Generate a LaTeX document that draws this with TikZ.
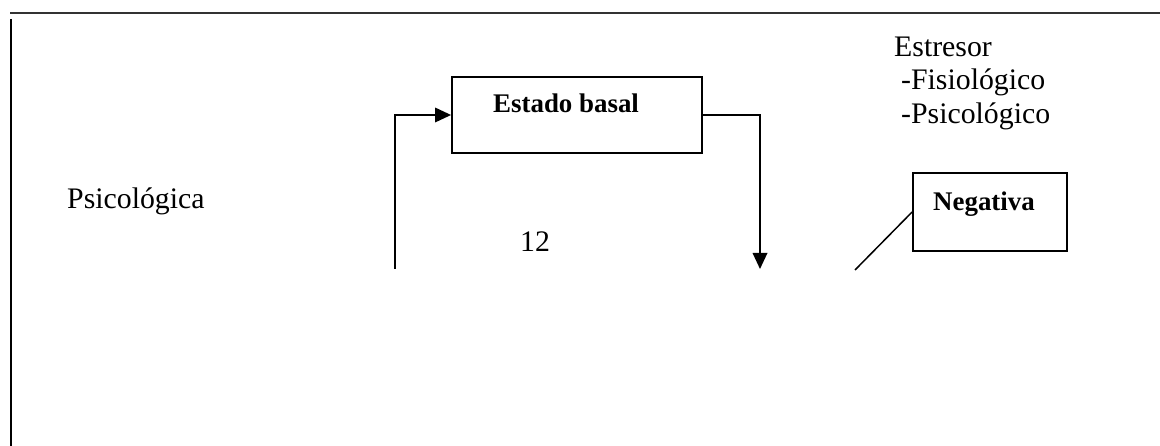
\documentclass[tikz,border=0pt]{standalone}
\usepackage{fontspec}
\setmainfont{Liberation Serif}
\usetikzlibrary{arrows.meta}
\begin{document}
\begin{tikzpicture}[x=1pt,y=-1pt,
  txt/.style={anchor=base west,inner sep=0pt,font=\fontsize{29.8}{33.5}\selectfont},
  boldtxt/.style={anchor=base west,inner sep=0pt,font=\fontsize{26.9}{30}\selectfont\bfseries},
  boxnode/.style={draw,line width=1.8,rectangle,inner sep=0pt},
  flow/.style={line width=1.8,-{Triangle[length=16,width=14.5]}},
  link/.style={line width=1.5}]
\useasboundingbox (0,0) rectangle (1160,446);
% page frame
\draw[line width=2.8,black!80] (10,13) -- (1160,13);
\draw[line width=2.8] (11,19) -- (11,446);

% boxes
\node[boxnode,minimum width=250,minimum height=76] (basal) at (577,115) {};
\node[boldtxt] (basaltxt) at (493,113) {Estado basal};
\node[boxnode,minimum width=154,minimum height=78] (neg) at (990,212) {};
\node[boldtxt] (negtxt) at (933,211) {Negativa};

% free text
\node[txt] (psic) at (67,209) {Psicológica};
\node[txt] (doce) at (520,252) {12};
\node[txt] (estr) at (894,57) {Estresor};
\node[txt] (fis) at (901,90) {-Fisiológico};
\node[txt] (psi2) at (901,123.5) {-Psicológico};

% connectors
\coordinate (lfoot) at (395,269);
\coordinate (rfoot) at (760,269);
\coordinate (nfoot) at (855,270);
\draw[flow] (lfoot) |- (basal.west);
\draw[flow] (basal.east) -| (rfoot);
\draw[link] (nfoot) -- (neg.west);
\end{tikzpicture}
\end{document}
